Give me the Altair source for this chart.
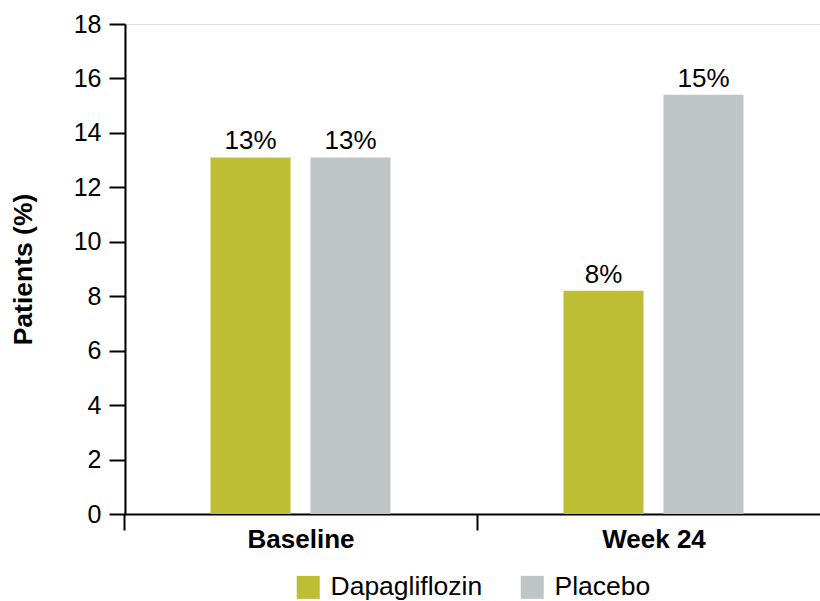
import altair as alt
import pandas as pd

timepoints = ["Baseline", "Baseline", "Week 24", "Week 24"]
groups = ["Dapagliflozin", "Placebo", "Dapagliflozin", "Placebo"]
values = [13.1, 13.1, 8.2, 15.4]
labels = ["13%", "13%", "8%", "15%"]

df = pd.DataFrame({"time": timepoints, "group": groups, "value": values, "label": labels})

FONT = "Liberation Sans"

x = alt.X("time:N", title=None, sort=["Baseline", "Week 24"],
          scale=alt.Scale(paddingInner=0, paddingOuter=0),
          axis=alt.Axis(labelAngle=0, labelFontWeight="bold", labelFontSize=26,
                        labelColor="black", tickBand="extent", tickSize=16,
                        tickWidth=2, tickColor="black", domainColor="black",
                        domainWidth=2, labelPadding=-4, labelFont=FONT))
xo = alt.XOffset("group:N", sort=["Dapagliflozin", "Placebo"],
                 scale=alt.Scale(paddingInner=0.2, paddingOuter=0.865))
y = alt.Y("value:Q", title="Patients (%)",
          scale=alt.Scale(domain=[0, 18], nice=False),
          axis=alt.Axis(values=list(range(0, 19, 2)), grid=False, labelFontSize=25,
                        labelColor="black", tickSize=16, tickWidth=2, tickColor="black",
                        domainColor="black", domainWidth=2, labelPadding=8, offset=-1,
                        titleFontSize=26.5, titleFontWeight="bold", titleColor="black",
                        titlePadding=36, labelFont=FONT, titleFont=FONT))

color = alt.Color("group:N", sort=["Dapagliflozin", "Placebo"],
                  scale=alt.Scale(domain=["Dapagliflozin", "Placebo"],
                                  range=["#BEBE35", "#BFC4C4"]),
                  legend=alt.Legend(title=None, orient="none", direction="horizontal",
                                    legendX=171, legendY=550, symbolType="square",
                                    symbolSize=530, symbolStrokeWidth=0,
                                    labelFontSize=26.5, labelColor="black", labelFont=FONT,
                                    labelOffset=9, columnPadding=36))

bars = alt.Chart(df).mark_bar().encode(x=x, xOffset=xo, y=y, color=color)
text = alt.Chart(df).mark_text(baseline="alphabetic", dy=-8, fontSize=26,
                               font=FONT, color="black").encode(
    x=x, xOffset=xo, y=y, text="label:N")

chart = (bars + text).properties(
    width=706, height=490,
    autosize=alt.AutoSizeParams(type="none"),
    padding={"left": 124, "top": 24, "right": -10, "bottom": 87},
).configure_view(stroke=None).configure(font=FONT)

chart.save("out.html", embed_options={"renderer": "svg", "actions": False})
